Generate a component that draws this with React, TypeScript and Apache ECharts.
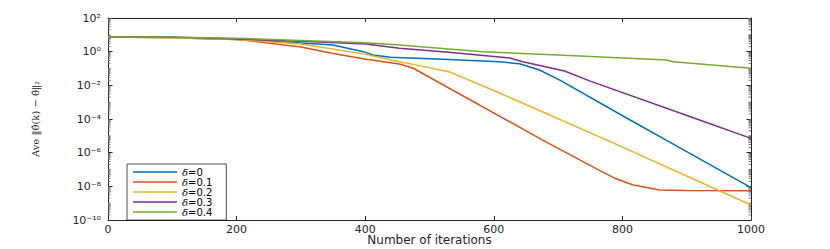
import React, { useEffect, useRef } from "react";
import * as echarts from "echarts";

// ---- data ----
const seriesNames = ["δ=0", "δ=0.1", "δ=0.2", "δ=0.3", "δ=0.4"];
const seriesColors = ["#0072BD", "#D95319", "#EDB120", "#7E2F8E", "#77AC30"];

const itersD0 = [0, 100, 200, 300, 350, 397, 412, 439, 530, 608, 640, 671, 702, 812, 868, 1000];
const valsD0 = [7.4, 6.92, 5.25, 3.24, 2.51, 1.0, 0.63, 0.47, 0.34, 0.25, 0.19, 0.081, 0.021, 8.7e-5, 5.6e-6, 8.3e-9];

const itersD1 = [0, 100, 200, 300, 350, 401, 453, 474, 676, 765, 790, 817, 858, 900, 1000];
const valsD1 = [7.4, 6.61, 5.37, 1.9, 0.79, 0.355, 0.186, 0.107, 5.6e-6, 8.5e-8, 2.8e-8, 1.2e-8, 6.0e-9, 5.6e-9, 5.5e-9];

const itersD2 = [0, 100, 200, 300, 401, 453, 492, 530, 609, 776, 1000];
const valsD2 = [7.4, 6.76, 5.25, 2.82, 0.69, 0.25, 0.129, 0.065, 0.0035, 5.6e-6, 7.8e-10];

const itersD3 = [0, 100, 200, 300, 401, 453, 530, 625, 645, 710, 750, 920, 1000];
const valsD3 = [7.4, 7.41, 5.75, 4.17, 2.82, 1.58, 0.91, 0.42, 0.25, 0.071, 0.0178, 8.7e-5, 7.1e-6];

const itersD4 = [0, 100, 200, 300, 401, 453, 530, 583, 700, 868, 879, 1000];
const valsD4 = [7.4, 7.2, 6.17, 4.57, 3.39, 2.51, 1.45, 1.0, 0.63, 0.316, 0.25, 0.102];

const xTicks = [0, 200, 400, 600, 800, 1000];
const yTickLabels: Record<string, string> = {
  "2": "10²",
  "0": "10⁰",
  "-2": "10⁻²",
  "-4": "10⁻⁴",
  "-6": "10⁻⁶",
  "-8": "10⁻⁸",
  "-10": "10⁻¹⁰",
};
const decadeExps = [-10, -9, -8, -7, -6, -5, -4, -3, -2, -1, 0, 1];
const decadeMultipliers = [1, 2, 3, 4, 5, 6, 7, 8, 9];

const xTitle = "Number of iterations";
const yTitle = "Ave ‖θ̂(k) − θ̂‖₂";

const allIters = [itersD0, itersD1, itersD2, itersD3, itersD4];
const allVals = [valsD0, valsD1, valsD2, valsD3, valsD4];

export default function App() {
  const ref = useRef<HTMLDivElement>(null);

  useEffect(() => {
    if (!ref.current) return;
    const chart = echarts.init(ref.current, null, { renderer: "svg" });
    const axisColor = "#262626";
    const font = "DejaVu Sans";

    // minor (log-subdivision) tick positions, drawn through the y scale
    const minorTickValues: number[] = [];
    decadeExps.forEach((e) => {
      decadeMultipliers.forEach((m) => {
        if (m === 1 && e % 2 === 0) return;
        minorTickValues.push(Number(`${m}e${e}`));
      });
    });

    const xBase = {
      type: "value" as const,
      min: xTicks[0],
      max: xTicks[xTicks.length - 1],
      interval: 200,
      axisLine: { show: true, onZero: false, lineStyle: { color: axisColor, width: 1 } },
      axisTick: { show: true, inside: true, length: 4, lineStyle: { color: axisColor } },
      splitLine: { show: false },
    };
    const yBase = {
      type: "log" as const,
      logBase: 10,
      min: 1e-10,
      max: 1e2,
      interval: 2,
      axisLine: { show: true, onZero: false, lineStyle: { color: axisColor, width: 1 } },
      axisTick: { show: true, inside: true, length: 4.5, lineStyle: { color: axisColor } },
      splitLine: { show: false },
    };

    const lineSeries = seriesNames.map((name, i) => ({
      name,
      type: "line",
      xAxisIndex: 0,
      yAxisIndex: 0,
      showSymbol: false,
      symbol: "none",
      smooth: false,
      z: 3,
      color: seriesColors[i],
      lineStyle: { color: seriesColors[i], width: 1.5 },
      data: allIters[i].map((x, k) => [x, allVals[i][k]]),
    }));

    const minorTickSeries = {
      name: "minorTicks",
      type: "custom",
      xAxisIndex: 0,
      yAxisIndex: 0,
      silent: true,
      z: 1,
      clip: false,
      data: minorTickValues.map((v) => [xTicks[0], v]),
      renderItem: (_params: any, api: any) => {
        const v = api.value(1);
        const l = api.coord([xTicks[0], v]);
        const r = api.coord([xTicks[xTicks.length - 1], v]);
        const style = { stroke: "#707070", lineWidth: 1 };
        return {
          type: "group",
          children: [
            { type: "line", shape: { x1: l[0], y1: l[1], x2: l[0] + 2.5, y2: l[1] }, style },
            { type: "line", shape: { x1: r[0], y1: r[1], x2: r[0] - 2.5, y2: r[1] }, style },
          ],
        };
      },
    };

    chart.setOption({
      animation: false,
      backgroundColor: "#ffffff",
      grid: {
        left: 108,
        right: 79,
        top: 18,
        bottom: 29,
        containLabel: false,
        outerBoundsMode: "none",
      },
      legend: {
        show: true,
        orient: "vertical",
        left: 127,
        top: 164,
        backgroundColor: "#ffffff",
        borderColor: "#262626",
        borderWidth: 0.8,
        borderRadius: 0,
        padding: [3, 14, 3, 6],
        itemGap: 0,
        itemWidth: 44,
        itemHeight: 1.5,
        icon: "rect",
        data: seriesNames,
        formatter: (name: string) => `{i|δ}{t|${name.slice(1)}}`,
        textStyle: {
          fontFamily: font,
          fontSize: 10,
          lineHeight: 8.7,
          color: "#000",
          rich: {
            i: { fontFamily: "DejaVu Serif", fontStyle: "italic", fontSize: 10, lineHeight: 8.7 },
            t: { fontFamily: font, fontSize: 10, lineHeight: 8.7 },
          },
        },
      },
      xAxis: [
        {
          ...xBase,
          position: "bottom",
          name: xTitle,
          nameLocation: "middle",
          nameGap: 14,
          nameMoveOverlap: false,
          nameTextStyle: { fontFamily: font, fontSize: 12, lineHeight: 12, color: axisColor },
          axisLabel: {
            show: true,
            fontFamily: font,
            fontSize: 11,
            color: axisColor,
            margin: 4,
            formatter: (v: number) => String(v),
          },
        },
        {
          ...xBase,
          position: "top",
          axisLabel: { show: false },
        },
      ],
      yAxis: [
        {
          ...yBase,
          position: "left",
          name: yTitle,
          nameLocation: "middle",
          nameGap: 68,
          nameMoveOverlap: false,
          nameTextStyle: { fontFamily: "DejaVu Serif", fontSize: 10, color: axisColor },
          axisLabel: {
            show: true,
            fontFamily: font,
            fontSize: 11,
            color: axisColor,
            margin: 7,
            formatter: (v: number) => {
              const e = Math.round(Math.log10(v));
              return yTickLabels[String(e)] ?? "";
            },
          },
        },
        {
          ...yBase,
          position: "right",
          axisLabel: { show: false },
        },
      ],
      series: [minorTickSeries, ...lineSeries],
    });

    return () => {
      chart.dispose();
    };
  }, []);

  return (
    <div
      ref={ref}
      style={{ position: "fixed", left: 0, top: 0, width: 830, height: 249, background: "#fff" }}
    />
  );
}
